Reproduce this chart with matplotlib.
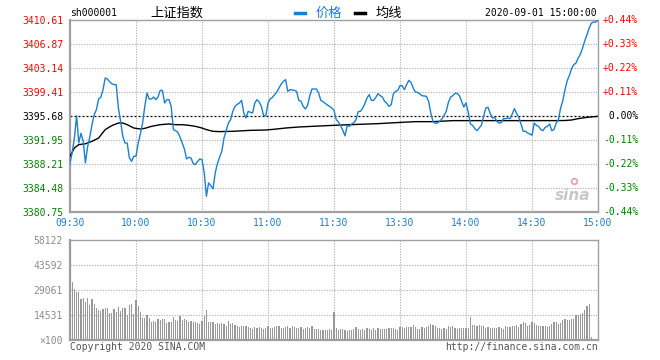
import matplotlib
matplotlib.use('Agg')
import matplotlib.pyplot as plt
from matplotlib.lines import Line2D

# ---- data (SSE Composite, 2020-09-01 intraday) ----
prev_close = 3395.68

# one price per minute, 09:30 .. 11:30 (121 values)
price_am = [
    3388.38, 3390.00, 3392.26, 3395.70, 3391.50, 3393.00, 3391.74, 3388.40, 3390.90, 3392.42,
    3394.33, 3395.89, 3396.66, 3398.32, 3398.58, 3399.77, 3401.59, 3401.43, 3401.02, 3400.70,
    3400.55, 3400.55, 3396.92, 3394.85, 3392.52, 3391.48, 3391.48, 3389.15, 3388.63, 3389.41,
    3389.41, 3391.48, 3392.93, 3394.59, 3397.18, 3399.25, 3398.32, 3398.32, 3398.63, 3398.22,
    3398.63, 3399.67, 3399.67, 3397.70, 3398.22, 3398.22, 3397.18, 3393.56, 3393.40, 3393.14,
    3392.42, 3391.48, 3390.55, 3389.00, 3389.26, 3389.15, 3388.27, 3388.12, 3388.63, 3389.00,
    3388.89, 3386.90, 3383.20, 3385.27, 3384.85, 3384.34, 3386.82, 3388.27, 3389.26, 3390.19,
    3392.26, 3393.40, 3394.59, 3395.11, 3396.41, 3397.18, 3397.49, 3397.70, 3398.11, 3396.15,
    3395.37, 3396.41, 3396.25, 3396.15, 3397.70, 3398.22, 3397.86, 3397.18, 3395.73, 3395.73,
    3397.70, 3398.32, 3398.58, 3399.00, 3399.41, 3400.03, 3400.65, 3401.07, 3401.33, 3399.51,
    3399.77, 3399.72, 3399.67, 3399.51, 3398.11, 3397.96, 3397.18, 3396.77, 3397.34, 3398.84,
    3399.88, 3399.88, 3399.88, 3399.25, 3398.11, 3397.91, 3397.65, 3397.39, 3397.18, 3396.92,
    3396.56,
]
# one price per minute, 13:01 .. 15:00 (120 values)
price_pm = [
    3395.11, 3394.75, 3394.18, 3393.45, 3392.60, 3394.18, 3394.07, 3394.44, 3394.64, 3395.11,
    3396.35, 3396.41, 3396.87, 3397.60, 3398.48, 3399.00, 3398.11, 3398.11, 3398.58, 3399.15,
    3398.84, 3398.63, 3397.96, 3397.65, 3397.18, 3397.44, 3399.15, 3399.51, 3399.67, 3400.39,
    3400.39, 3399.77, 3400.55, 3401.22, 3400.91, 3400.03, 3399.41, 3399.36, 3399.10, 3398.84,
    3398.79, 3398.74, 3397.96, 3396.15, 3394.85, 3394.54, 3394.59, 3394.85, 3395.21, 3395.73,
    3396.41, 3397.80, 3398.63, 3398.84, 3399.20, 3399.20, 3398.84, 3397.96, 3397.08, 3397.70,
    3396.30, 3394.44, 3394.23, 3393.71, 3393.40, 3393.81, 3394.23, 3395.63, 3396.92, 3397.03,
    3396.09, 3395.37, 3395.47, 3394.85, 3394.59, 3394.64, 3395.27, 3395.27, 3395.37, 3395.27,
    3395.99, 3396.82, 3396.09, 3395.47, 3394.44, 3393.30, 3393.30, 3393.04, 3392.88, 3392.68,
    3394.59, 3394.23, 3394.07, 3393.56, 3393.40, 3393.92, 3394.07, 3394.44, 3393.40, 3393.56,
    3394.59, 3395.11, 3396.92, 3398.06, 3399.77, 3401.17, 3402.00, 3403.04, 3403.66, 3403.92,
    3404.69, 3405.31, 3406.25, 3407.39, 3408.32, 3409.36, 3410.13, 3410.29, 3410.29, 3410.61,
]

# average line (均线), read at selected minutes
avg_minute = [0, 2, 4, 7, 10, 13, 16, 19, 22, 24, 26, 29, 32, 34, 37, 41, 45, 48, 51, 54,
              57, 60, 62, 65, 68, 74, 82, 89, 94, 98, 104, 110, 120, 127, 140, 151, 157,
              165, 174, 180, 194, 209, 220, 225, 228, 231, 235, 240]
avg_price = [3389.41, 3390.71, 3391.23, 3391.36, 3391.74, 3392.26, 3393.56, 3394.18, 3394.59,
             3394.59, 3394.33, 3393.81, 3393.66, 3393.76, 3394.07, 3394.33, 3394.44, 3394.33,
             3394.33, 3394.23, 3394.07, 3393.81, 3393.56, 3393.30, 3393.25, 3393.30, 3393.45,
             3393.50, 3393.66, 3393.81, 3393.97, 3394.07, 3394.23, 3394.33, 3394.49, 3394.70,
             3394.80, 3394.80, 3394.96, 3394.96, 3394.96, 3394.96, 3394.96, 3394.98, 3395.06,
             3395.27, 3395.47, 3395.63]

# volume per minute, units of 100 shares
volume_am = [
    58122, 33700, 29400, 27900, 27900, 23800, 24400, 22100, 24400, 20300,
    23800, 20900, 18600, 17400, 16900, 18000, 18600, 18600, 15700, 15700,
    18000, 16300, 19200, 16900, 18600, 18600, 14500, 20300, 20900, 15100,
    23200, 19800, 16300, 12800, 12800, 14500, 12800, 10500, 11000, 10500,
    12200, 11600, 12200, 12200, 9900, 10500, 10500, 13400, 11600, 11000,
    13900, 11600, 12200, 11600, 10500, 11000, 10500, 10500, 9900, 9300,
    11000, 13900, 17400, 10500, 10500, 10500, 9300, 9900, 9300, 9900,
    9300, 8100, 11000, 9300, 9900, 8700, 8100, 7600, 8100, 8100,
    8100, 7600, 7000, 6400, 7600, 7000, 7600, 7000, 6400, 7000,
    8100, 7000, 7000, 7600, 8100, 8100, 7000, 7000, 7600, 8100,
    7000, 8100, 7600, 7000, 7000, 7600, 6400, 7000, 7600, 7000,
    8100, 6400, 6400, 6400, 5800, 5800, 5800, 5800, 6400, 5800,
    16300,
]
volume_pm = [
    6970, 5810, 6390, 6390, 5810, 5230, 5810, 5810, 6390, 7550,
    6390, 5810, 6390, 5810, 6970, 6390, 5810, 6970, 5810, 6970,
    6390, 6390, 6390, 6390, 6970, 6970, 6970, 6390, 5810, 7550,
    7550, 6970, 7550, 7550, 7550, 8720, 7550, 6390, 6390, 7550,
    6970, 7550, 8140, 9300, 8720, 8140, 6970, 6970, 6390, 6970,
    6390, 8140, 7550, 8140, 6970, 6390, 6970, 6970, 6970, 6970,
    6970, 13370, 8720, 8720, 8140, 8720, 8140, 8140, 6970, 7550,
    6970, 6970, 6970, 6970, 7550, 6970, 6390, 8140, 7550, 7550,
    8140, 8140, 8720, 7550, 9300, 10460, 9880, 8140, 8720, 10460,
    9880, 8720, 8140, 8140, 8140, 8140, 7550, 8140, 9300, 10460,
    10460, 9300, 9880, 11620, 12200, 11620, 11620, 12200, 12200, 14530,
    14530, 15110, 15690, 17430, 19760, 20920, 1740, 0, 0, 0,
]

price_ticks = [3380.75, 3384.48, 3388.21, 3391.95, 3395.68, 3399.41, 3403.14, 3406.87, 3410.61]
pct_labels = ['-0.44%', '-0.33%', '-0.22%', '-0.11%', ' 0.00%', '+0.11%', '+0.22%', '+0.33%', '+0.44%']
time_ticks = [0, 30, 60, 90, 120, 150, 180, 210, 240]
time_labels = ['09:30', '10:00', '10:30', '11:00', '11:30', '13:30', '14:00', '14:30', '15:00']
vol_ticks = [0, 14531, 29061, 43592, 58122]
vol_labels = ['\u00d7100', '14531', '29061', '43592', '58122']

# ---- styling ----
W, H = 660, 360
BLUE = '#1a80d4'
RED = '#ff0000'
GREEN = '#008000'
GRID = '#b4b4b4'
FRAME = '#a0a0a0'
MONO = 'DejaVu Sans Mono'
CJK = ['Noto Sans CJK SC', 'DejaVu Sans']
FS = 7

plt.rcParams['font.family'] = [MONO, 'Noto Sans CJK SC']


def fx(px):
    return px / W


def fy(py):
    return 1 - py / H


def style_frame(a):
    for side in ['top', 'right']:
        a.spines[side].set_color(FRAME)
        a.spines[side].set_linewidth(1.0)
    for side in ['left', 'bottom']:
        a.spines[side].set_color(FRAME)
        a.spines[side].set_linewidth(1.6)
    a.tick_params(length=0)


fig = plt.figure(figsize=(W / 100, H / 100), dpi=100)
ax = fig.add_axes([fx(70), fy(212), 528 / W, 192 / H])
axv = fig.add_axes([fx(70), fy(340), 528 / W, 100 / H])

minutes = list(range(len(price_am) + len(price_pm)))
price = price_am + price_pm
volume = volume_am + volume_pm

# price panel
for t in time_ticks[1:-1]:
    ax.axvline(t, color=GRID, lw=0.8, ls=(0, (1.2, 1.2)), zorder=1)
for p in price_ticks[1:-1]:
    if p != prev_close:
        ax.axhline(p, color=GRID, lw=0.8, ls=(0, (1.2, 1.2)), zorder=1)
ax.axhline(prev_close, color='black', lw=0.9, ls=(0, (1.6, 1.6)), zorder=2)
ax.plot(minutes, price, color=BLUE, lw=1.0, zorder=4)
ax.plot(avg_minute, avg_price, color='black', lw=1.0, zorder=3)
ax.set_xlim(0, 240)
ax.set_ylim(price_ticks[0], price_ticks[-1])
ax.set_yticks(price_ticks)
ax.set_yticklabels([f'{p:.2f}' for p in price_ticks], fontsize=FS)
for lab, p in zip(ax.get_yticklabels(), price_ticks):
    lab.set_color(RED if p > prev_close else (GREEN if p < prev_close else 'black'))
ax.set_xticks(time_ticks)
ax.set_xticklabels(time_labels, fontsize=FS, color=BLUE)
ax.tick_params(axis='x', pad=4)
ax.tick_params(axis='y', pad=5)
style_frame(ax)

# percentage labels on the right
for p, lab in zip(price_ticks, pct_labels):
    c = RED if p > prev_close else (GREEN if p < prev_close else 'black')
    ax.text(fx(603) * W / 528 - 70 / 528, p, lab, transform=ax.get_yaxis_transform(),
            fontsize=FS, color=c, ha='left', va='center', clip_on=False)

# sina watermark
ax.text(0.985, 0.045, 'sina', transform=ax.transAxes, fontsize=11, fontstyle='italic',
        fontweight='bold', color='#c8c8c8', ha='right', va='bottom', family='DejaVu Sans')
ax.plot([0.955], [0.16], 'o', transform=ax.transAxes, ms=4, mfc='none', mec='#e8a0a0', mew=1.2)

# volume panel
for t in time_ticks[1:-1]:
    axv.axvline(t, color=GRID, lw=0.8, ls=(0, (1.2, 1.2)), zorder=1)
for v in vol_ticks[1:-1]:
    axv.axhline(v, color=GRID, lw=0.8, ls=(0, (1.2, 1.2)), zorder=1)
axv.bar(minutes, volume, width=0.5, color='#999999', linewidth=0, zorder=3)
axv.set_xlim(0, 240)
axv.set_ylim(0, vol_ticks[-1])
axv.set_xticks([])
axv.set_yticks(vol_ticks)
axv.set_yticklabels(vol_labels, fontsize=FS, color='#8c8c8c')
axv.tick_params(axis='y', pad=5)
style_frame(axv)

# header
fig.text(fx(70), fy(13), 'sh000001', fontsize=FS, color='black', ha='left', va='center')
fig.text(fx(150), fy(13), '上证指数', fontsize=9.5, family=CJK, color='black', ha='left', va='center')
fig.add_artist(Line2D([fx(295), fx(305)], [fy(12.5), fy(12.5)], color=BLUE, lw=2.5,
                      transform=fig.transFigure))
fig.text(fx(316), fy(13), '价格', fontsize=9.5, family=CJK, color=BLUE, ha='left', va='center')
fig.add_artist(Line2D([fx(355), fx(365)], [fy(12.5), fy(12.5)], color='black', lw=2.5,
                      transform=fig.transFigure))
fig.text(fx(376), fy(13), '均线', fontsize=9.5, family=CJK, color='black', ha='left', va='center')
fig.text(fx(597), fy(13), '2020-09-01 15:00:00', fontsize=FS, color='black', ha='right', va='center')

# footer
fig.text(fx(70), fy(347), 'Copyright 2020 SINA.COM', fontsize=FS, color='#555555', ha='left', va='center')
fig.text(fx(598), fy(347), 'http://finance.sina.com.cn', fontsize=FS, color='#555555', ha='right', va='center')

fig.savefig('out.png', dpi=100, facecolor='white')
